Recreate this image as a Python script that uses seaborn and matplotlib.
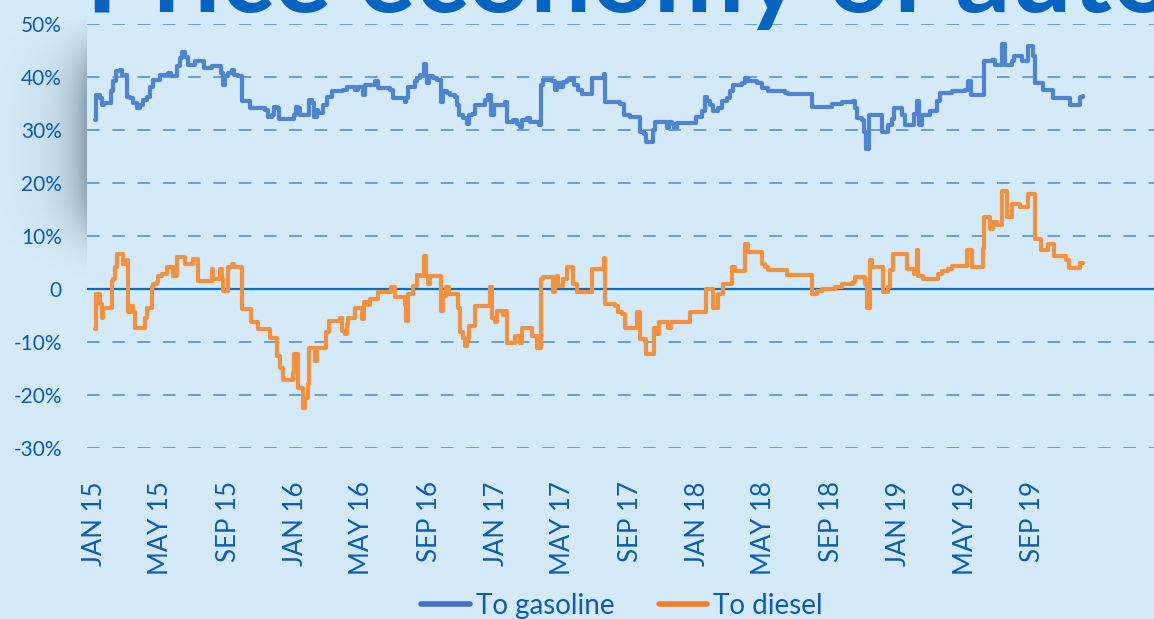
import numpy as np
import pandas as pd
import matplotlib.pyplot as plt
from matplotlib.lines import Line2D
import seaborn as sns

# Series: days since 1 Jan 2015 where the value changes, and the value (%)
start = pd.Timestamp('2015-01-01')

gas_day = [2, 4, 11, 15, 18, 31, 34, 40, 47, 51,
           60, 65, 71, 78, 83, 89, 96, 102, 107, 120,
           134, 140, 151, 156, 160, 165, 171, 183, 200, 214,
           231, 234, 238, 243, 250, 254, 261, 269, 283, 310,
           316, 323, 327, 332, 336, 363, 367, 370, 374, 390,
           396, 399, 405, 407, 416, 423, 432, 452, 459, 474,
           479, 488, 492, 510, 515, 537, 543, 564, 566, 570,
           583, 586, 592, 599, 603, 604, 608, 615, 623, 630,
           633, 641, 646, 655, 659, 662, 670, 677, 681, 686,
           692, 710, 715, 721, 726, 746, 750, 760, 768, 773,
           777, 786, 791, 808, 811, 815, 831, 837, 840, 846,
           851, 858, 866, 871, 878, 886, 904, 926, 927, 955,
           962, 973, 991, 998, 1002, 1015, 1018, 1040, 1044, 1049,
           1053, 1058, 1093, 1104, 1109, 1113, 1118, 1123, 1133, 1140,
           1149, 1154, 1160, 1176, 1182, 1187, 1203, 1212, 1223, 1254,
           1260, 1303, 1340, 1358, 1378, 1381, 1385, 1394, 1397, 1401,
           1407, 1430, 1441, 1448, 1452, 1467, 1472, 1488, 1494, 1497,
           1503, 1517, 1530, 1535, 1557, 1581, 1586, 1592, 1615, 1630,
           1635, 1648, 1653, 1666, 1670, 1684, 1695, 1704, 1708, 1722,
           1741, 1771, 1790, 1795]
gas_val = [31.9, 36.6, 36.0, 34.7, 35.0, 37.3, 39.2, 41.1, 41.4, 40.4,
           36.3, 36.0, 35.0, 34.2, 34.7, 35.7, 36.3, 38.2, 39.5, 40.4,
           40.8, 40.1, 42.0, 43.6, 44.8, 43.8, 42.3, 43.0, 41.7, 42.0,
           40.8, 38.5, 40.1, 40.8, 41.4, 40.4, 40.1, 35.4, 34.1, 33.8,
           32.5, 32.8, 34.4, 34.1, 32.1, 32.8, 34.4, 34.1, 32.8, 35.7,
           35.0, 32.5, 33.8, 33.2, 34.7, 36.3, 37.3, 37.5, 38.2, 37.6,
           38.2, 36.6, 38.5, 39.2, 37.9, 37.5, 36.1, 35.2, 36.0, 38.2,
           39.2, 39.9, 40.4, 42.5, 40.1, 38.9, 40.1, 39.8, 39.5, 35.2,
           37.3, 36.9, 36.6, 36.3, 34.7, 32.8, 32.2, 31.2, 32.8, 33.1,
           34.7, 35.7, 36.6, 32.8, 34.7, 35.2, 31.6, 31.9, 31.2, 30.6,
           31.9, 32.3, 31.6, 30.9, 38.5, 39.5, 39.2, 37.6, 38.8, 38.2,
           39.0, 39.5, 39.8, 38.5, 37.6, 36.8, 39.8, 40.6, 35.2, 34.9,
           32.8, 32.5, 29.7, 29.3, 27.7, 30.0, 31.6, 30.3, 31.6, 31.2,
           30.3, 31.4, 32.5, 33.5, 36.3, 35.4, 34.7, 33.5, 34.2, 35.4,
           36.0, 37.3, 38.5, 38.8, 39.8, 39.2, 38.9, 37.9, 37.3, 37.0,
           36.8, 34.4, 34.9, 35.2, 35.5, 34.1, 32.2, 31.9, 29.7, 26.5,
           32.8, 29.7, 30.9, 32.0, 34.1, 32.8, 30.9, 33.0, 35.5, 31.0,
           32.8, 33.5, 35.4, 37.0, 37.3, 37.6, 39.2, 36.6, 43.0, 43.3,
           42.3, 46.2, 42.3, 43.0, 43.9, 43.0, 45.8, 43.9, 38.9, 37.6,
           36.0, 34.7, 36.3, 36.5]

diesel_day = [2, 4, 11, 15, 16, 33, 34, 38, 42, 53,
              60, 61, 65, 71, 74, 93, 96, 105, 107, 114,
              116, 123, 132, 143, 151, 165, 180, 189, 214, 216,
              229, 232, 234, 243, 250, 254, 269, 285, 298, 319,
              332, 338, 343, 361, 363, 370, 379, 383, 388, 390,
              401, 405, 421, 427, 446, 450, 456, 459, 461, 474,
              486, 490, 497, 501, 515, 539, 546, 564, 566, 570,
              579, 586, 592, 598, 603, 606, 610, 630, 633, 639,
              644, 661, 664, 670, 673, 677, 681, 692, 719, 722,
              728, 731, 742, 748, 750, 764, 773, 777, 795, 804,
              811, 815, 833, 837, 840, 842, 851, 858, 869, 877,
              904, 926, 928, 946, 951, 958, 964, 986, 991, 1002,
              1016, 1022, 1025, 1042, 1047, 1082, 1111, 1123, 1133, 1142,
              1158, 1163, 1182, 1187, 1212, 1218, 1223, 1258, 1303, 1312,
              1321, 1345, 1358, 1378, 1381, 1399, 1403, 1408, 1412, 1432,
              1441, 1445, 1450, 1476, 1488, 1494, 1496, 1505, 1532, 1539,
              1550, 1557, 1584, 1594, 1614, 1616, 1626, 1632, 1639, 1648,
              1657, 1666, 1681, 1695, 1708, 1719, 1732, 1742, 1764, 1770,
              1790, 1795]
diesel_val = [-7.6, -0.9, -2.8, -5.4, -3.5, 1.6, 1.9, 4.1, 6.6, 4.7,
              5.4, -4.4, -3.2, -4.4, -7.3, -5.4, -3.5, 0.3, 0.9, 1.3,
              2.5, 2.8, 4.1, 2.5, 6.0, 4.7, 5.7, 1.6, 3.8, 1.9,
              3.8, 1.9, -0.3, 4.1, 4.7, 4.1, -3.8, -6.3, -7.6, -9.2,
              -12.7, -14.9, -17.1, -15.8, -12.3, -18.7, -22.5, -20.6, -18.0, -11.1,
              -13.6, -11.1, -8.2, -6.0, -5.4, -7.9, -8.5, -6.6, -5.4, -3.5,
              -5.7, -2.5, -3.0, -1.9, -0.6, 0.3, -1.6, -3.0, -6.0, -0.9,
              0.6, 2.7, 2.5, 6.3, 2.5, 0.9, 2.5, -4.1, -1.3, 0.3,
              -0.9, -3.5, -8.2, -9.2, -10.8, -9.5, -7.0, -3.2, 0.3, -5.4,
              -6.3, -4.1, -4.9, -4.1, -10.1, -8.9, -10.1, -7.3, -8.9, -11.1,
              1.9, 2.2, -0.6, 0.6, 2.5, 0.6, 1.9, 4.1, 0.9, -0.6,
              3.8, 5.9, -2.8, -3.2, -4.4, -4.7, -7.3, -4.4, -9.5, -12.2,
              -7.3, -8.5, -6.3, -7.3, -6.3, -4.3, 0.0, -3.5, -0.9, 0.9,
              4.1, 3.4, 8.4, 7.0, 4.7, 4.1, 3.5, 2.7, -0.9, -0.3,
              0.0, 0.3, 0.9, 1.3, 2.3, 0.9, -3.5, 5.5, 4.2, -0.6,
              0.3, 3.5, 6.6, 3.8, 2.8, 7.3, 2.5, 1.9, 2.8, 3.4,
              3.8, 4.4, 7.3, 4.1, 7.6, 13.6, 11.4, 12.6, 12.0, 18.4,
              13.6, 16.1, 15.5, 18.0, 9.5, 7.4, 8.5, 6.3, 5.5, 3.9,
              4.9, 4.9]

series_names = ['To gasoline', 'To diesel']
tick_labels = ['JAN 15', 'MAY 15', 'SEP 15', 'JAN 16', 'MAY 16', 'SEP 16',
               'JAN 17', 'MAY 17', 'SEP 17', 'JAN 18', 'MAY 18', 'SEP 18',
               'JAN 19', 'MAY 19', 'SEP 19']
ytick_vals = [-30, -20, -10, 0, 10, 20, 30, 40, 50]
ytick_labels = ['-30%', '-20%', '-10%', '0', '10%', '20%', '30%', '40%', '50%']
title_text = 'Price economy of auto'

# Build a long table for seaborn
gas = pd.DataFrame({'date': start + pd.to_timedelta(gas_day, unit='D'),
                    'value': gas_val, 'series': series_names[0]})
diesel = pd.DataFrame({'date': start + pd.to_timedelta(diesel_day, unit='D'),
                       'value': diesel_val, 'series': series_names[1]})
df = pd.concat([gas, diesel], ignore_index=True)

bg = '#d4eaf9'
text_blue = '#0a5db3'
line_colors = {'To gasoline': '#4f84d2', 'To diesel': '#f3913e'}
legend_colors = ['#4472c4', '#fb7d2a']

sns.set_style('white')
plt.rcParams['font.family'] = ['Lato', 'DejaVu Sans']

W, H = 1154, 619
fig = plt.figure(figsize=(W / 100, H / 100), dpi=100, facecolor=bg)

# soft drop shadow on the left edge of the panel
sh_ax = fig.add_axes([0, 1 - 275 / H, 87 / W, 255 / H], zorder=0)
xx = np.linspace(0, 87, 87)
yy = np.linspace(0, 255, 255)
X, Y = np.meshgrid(xx, yy)
alpha = 0.5 * np.exp(-(87 - X) / 22) * np.exp(-((Y - 120) / 95) ** 4)
shadow = np.zeros((255, 87, 4))
shadow[..., 0] = 70 / 255
shadow[..., 1] = 90 / 255
shadow[..., 2] = 105 / 255
shadow[..., 3] = alpha
sh_ax.imshow(shadow, aspect='auto', interpolation='bilinear')
sh_ax.axis('off')

ax = fig.add_axes([87 / W, 1 - 448 / H, (W - 87) / W, 424 / H], zorder=1)
ax.set_facecolor('none')

sns.lineplot(data=df, x='date', y='value', hue='series', palette=line_colors,
             estimator=None, drawstyle='steps-post', linewidth=3.0,
             legend=False, ax=ax)

ax.set_ylim(-30, 50)
ax.set_xlim(start - pd.Timedelta(days=13), start + pd.Timedelta(days=1924))
ax.set_yticks(ytick_vals)
ax.set_yticklabels(ytick_labels)
tick_dates = pd.date_range('2015-01-01', periods=len(tick_labels), freq='4MS')
ax.set_xticks(tick_dates)
ax.set_xticklabels(tick_labels, rotation=90)
ax.tick_params(axis='y', length=0, pad=18, labelsize=15, labelcolor=text_blue)
ax.tick_params(axis='x', length=0, pad=24, labelsize=18.5, labelcolor=text_blue)
ax.set_xlabel('')
ax.set_ylabel('')
for s in ax.spines.values():
    s.set_visible(False)

ax.grid(False)
for v in ytick_vals:
    if v != 0:
        ax.axhline(v, color='#5b9bd5', linewidth=1.3, linestyle=(0, (7, 7)), zorder=0)
ax.axhline(0, color='#0b6cc4', linewidth=1.6, zorder=1)

handles = [Line2D([], [], color=c, linewidth=4) for c in legend_colors]
fig.legend(handles, series_names, loc='center', bbox_to_anchor=(0.539, 0.021),
           ncol=2, frameon=False, fontsize=20, labelcolor=text_blue,
           handlelength=1.75, handletextpad=0.2, columnspacing=1.6)

# title cut off by the top edge
fig.text(86 / W, 1 - 12 / H, title_text, fontsize=78, fontweight='bold',
         color='#0563c1', ha='left', va='baseline', zorder=5)

fig.savefig('out.png', dpi=100, facecolor=bg)
